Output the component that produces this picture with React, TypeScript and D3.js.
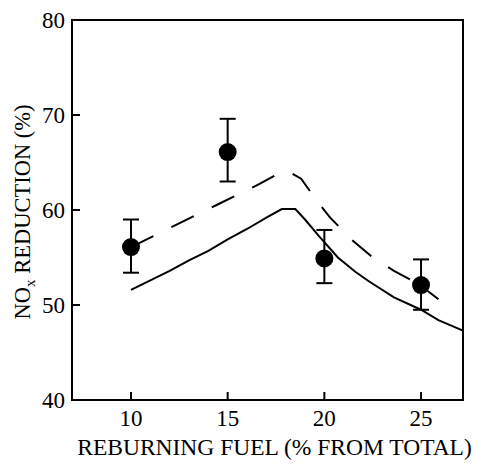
import React from 'react';
import * as d3 from 'd3';

const xTicks = [10, 15, 20, 25];
const yTicks = [40, 50, 60, 70, 80];

// measured points with error bars
const expX = [10, 15, 20, 25];
const expY = [56.1, 66.1, 54.9, 52.1];
const expLo = [53.4, 63.0, 52.3, 49.5];
const expHi = [59.0, 69.6, 57.9, 54.8];

// model curves
const solidX = [10, 11, 12, 13, 14, 15, 16, 17, 17.8, 18.5, 19, 19.7, 20.7, 21.6, 22.3, 23.6, 25, 25.9, 27.17];
const solidY = [51.6, 52.6, 53.6, 54.7, 55.7, 56.9, 58.0, 59.2, 60.1, 60.1, 59.0, 57.3, 55.0, 53.5, 52.5, 50.8, 49.5, 48.4, 47.3];
const dashX = [10, 11, 12.2, 13.3, 14.4, 15.5, 16.6, 17.7, 18.1, 18.8, 19.6, 20.3, 21.4, 22.5, 23.6, 24.5, 25.2, 25.9];
const dashY = [56.1, 57.1, 58.3, 59.4, 60.5, 61.6, 62.7, 63.9, 64.1, 63.3, 61.0, 59.2, 56.9, 55.0, 53.6, 52.6, 51.7, 50.6];

const W = 481;
const H = 464;
const margin = { top: 20, right: 18, bottom: 64, left: 72 };

export default function App() {
  const innerW = W - margin.left - margin.right;
  const innerH = H - margin.top - margin.bottom;

  const x = d3.scaleLinear().domain([6.95, 27.17]).range([0, innerW]);
  const y = d3.scaleLinear().domain([40, 80]).range([innerH, 0]);

  const line = d3.line<[number, number]>()
    .x(d => x(d[0]))
    .y(d => y(d[1]));

  const solid = solidX.map((v, i) => [v, solidY[i]] as [number, number]);
  const dashed = dashX.map((v, i) => [v, dashY[i]] as [number, number]);

  return (
    <svg
      width={W}
      height={H}
      style={{ display: 'block', position: 'absolute', left: 0, top: 0, fontFamily: '"Liberation Serif"', fontSize: '23px' }}
    >
      <rect width={W} height={H} fill="#fff" />
      <g transform={`translate(${margin.left},${margin.top})`}>
        {/* curves */}
        <path d={line(solid) || ''} fill="none" stroke="#000" strokeWidth={2} />
        <path d={line(dashed) || ''} fill="none" stroke="#000" strokeWidth={2} strokeDasharray="25 20" />

        {/* error bars and points */}
        {expX.map((v, i) => (
          <g key={i}>
            <line x1={x(v)} x2={x(v)} y1={y(expLo[i])} y2={y(expHi[i])} stroke="#000" strokeWidth={2} />
            <line x1={x(v) - 8} x2={x(v) + 8} y1={y(expLo[i])} y2={y(expLo[i])} stroke="#000" strokeWidth={2} />
            <line x1={x(v) - 8} x2={x(v) + 8} y1={y(expHi[i])} y2={y(expHi[i])} stroke="#000" strokeWidth={2} />
            <circle cx={x(v)} cy={y(expY[i])} r={9} fill="#000" />
          </g>
        ))}

        {/* frame */}
        <rect x={0} y={0} width={innerW} height={innerH} fill="none" stroke="#000" strokeWidth={2} />

        {/* x ticks (inward) */}
        {xTicks.map(t => (
          <g key={t} transform={`translate(${x(t)},${innerH})`}>
            <line y1={0} y2={-8} stroke="#000" strokeWidth={2} />
            <text y={26} textAnchor="middle">{t}</text>
          </g>
        ))}

        {/* y ticks (inward) */}
        {yTicks.map(t => (
          <g key={t} transform={`translate(0,${y(t)})`}>
            <line x1={0} x2={8} stroke="#000" strokeWidth={2} />
            <text x={-7} dy="0.35em" textAnchor="end">{t}</text>
          </g>
        ))}

        <text x={innerW / 2 + 7} y={innerH + 55} textAnchor="middle" style={{ fontSize: '23.5px' }}>
          REBURNING FUEL (% FROM TOTAL)
        </text>

        <text
          transform={`translate(-42,${innerH / 2 + 2}) rotate(-90)`}
          textAnchor="middle"
          style={{ fontSize: '22.5px' }}
        >
          NO<tspan style={{ fontSize: '15px' }} dy={5}>x</tspan><tspan dy={-5}> REDUCTION (%)</tspan>
        </text>
      </g>
    </svg>
  );
}
